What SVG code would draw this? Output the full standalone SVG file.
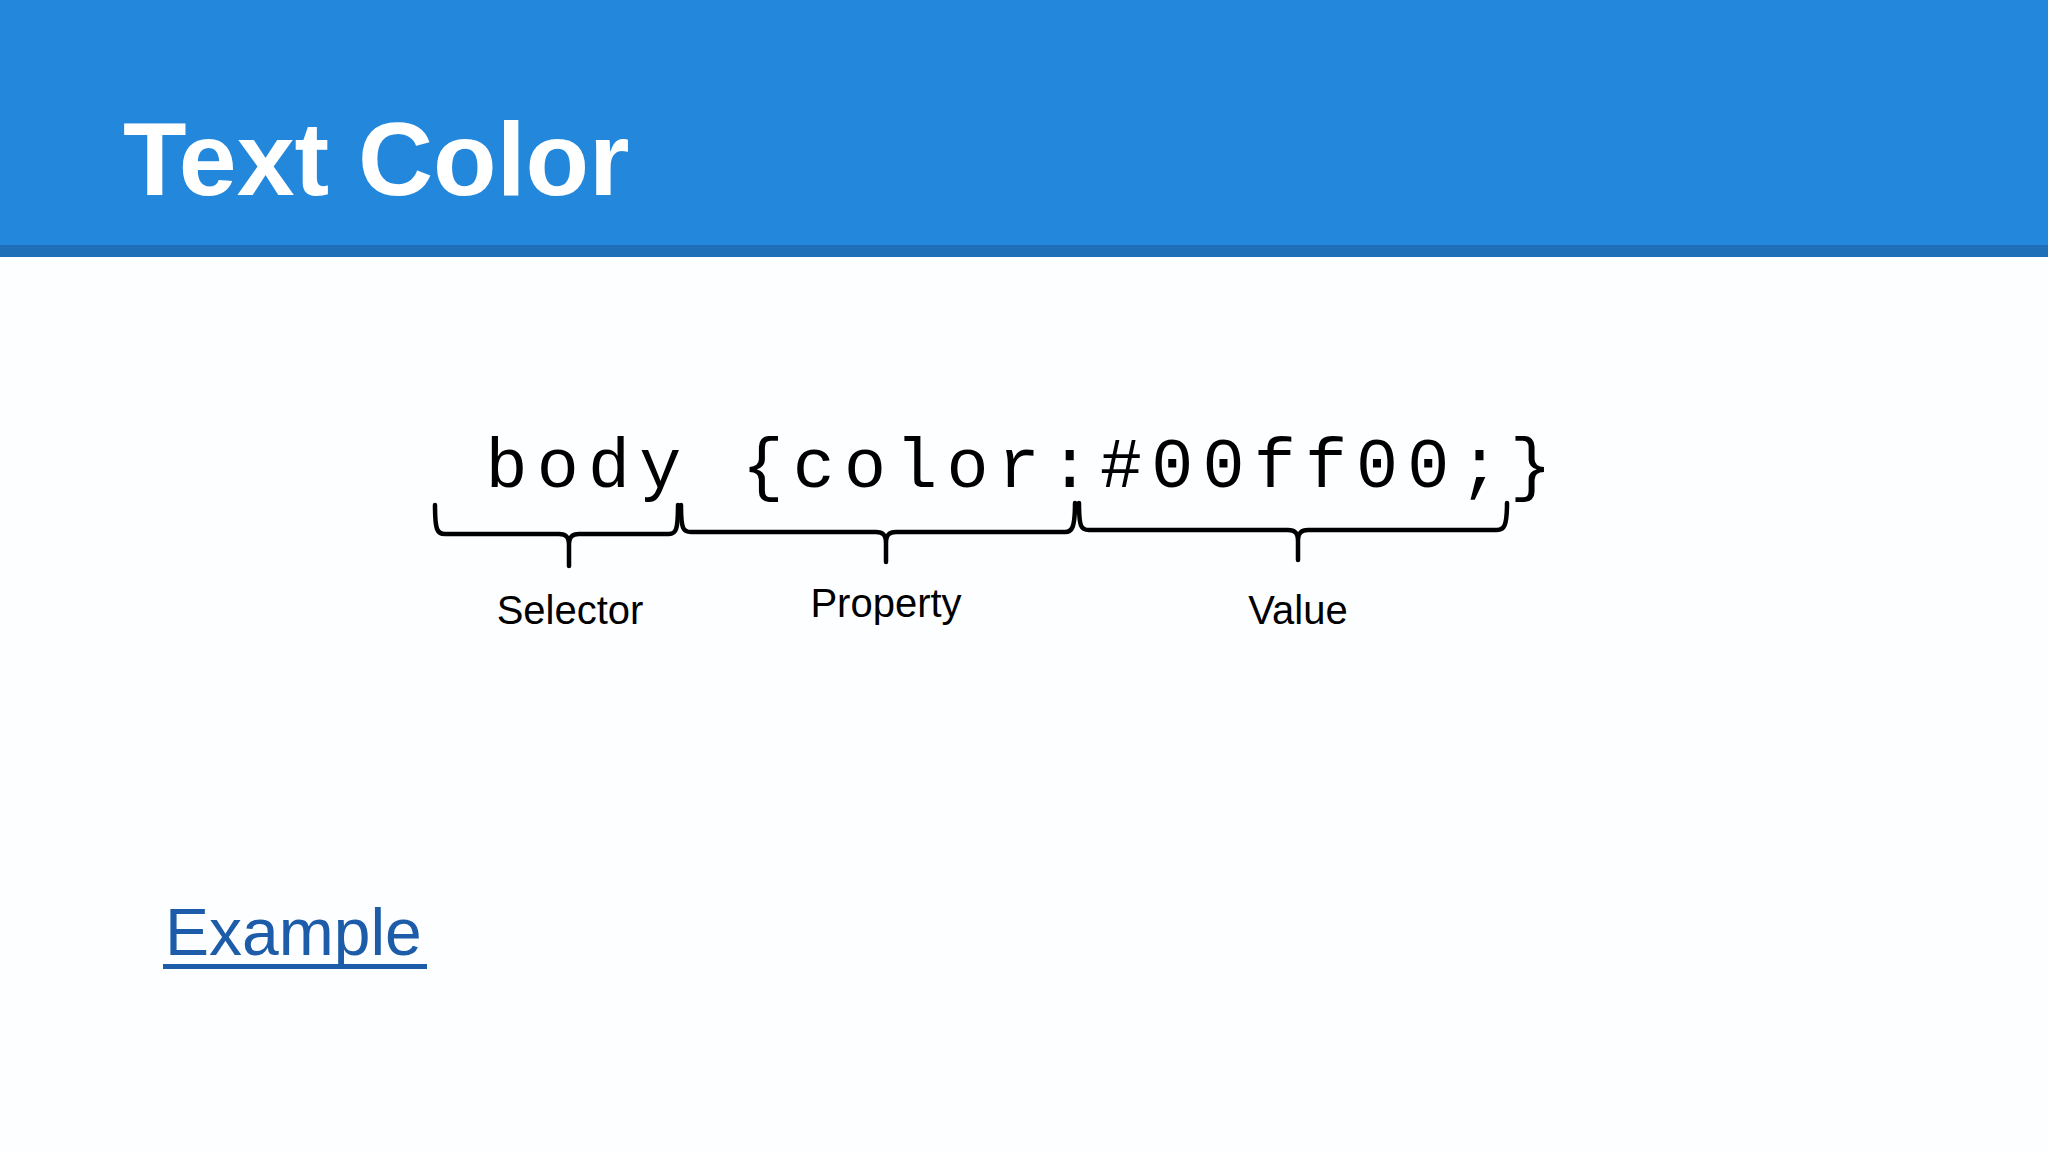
<svg xmlns="http://www.w3.org/2000/svg" width="2048" height="1152" viewBox="0 0 2048 1152">
  <defs>
    <style>
      .brace { fill: none; stroke: #000; stroke-width: 4.5; stroke-linecap: round; stroke-linejoin: round; }
      .label { font-family: "Liberation Sans", Arial, sans-serif; font-size: 40px; fill: #000; text-anchor: middle; }
      .code { font-family: "Liberation Mono", "Courier New", monospace; font-size: 70px; letter-spacing: 9.2px; fill: #000; }
    </style>
  </defs>
  <rect width="2048" height="1152" fill="#fdfeff"/>
  <g id="header">
    <rect x="0" y="0" width="2048" height="245" fill="#2388db"/>
    <rect x="0" y="245" width="2048" height="12" fill="#1e6fb7"/>
    <text x="123" y="195" font-family="Liberation Sans, Arial, sans-serif" font-size="104" font-weight="bold" fill="#ffffff">Text Color</text>
  </g>
  <g id="code">
    <text class="code" x="485.6" y="487" xml:space="preserve">body {color:#00ff00;}</text>
  </g>
  <g id="connectors">
    <path class="brace" d="M435,505 C435,530 437,534 445,534 L559,534 C566,534 569,537 569,545 L569,566 M569,545 C569,537 572,534 579,534 L669,534 C676,534 678,530 678,505"/>
    <path class="brace" d="M681,505 C681,529 683,532 691,532 L876,532 C883,532 886,535 886,543 L886,562 M886,543 C886,535 889,532 896,532 L1065,532 C1072,532 1075,528 1075,503"/>
    <path class="brace" d="M1079,503 C1079,527 1081,530 1089,530 L1288,530 C1295,530 1298,533 1298,541 L1298,560 M1298,541 C1298,533 1301,530 1308,530 L1497,530 C1504,530 1507,526 1507,503"/>
  </g>
  <g id="selector">
    <text class="label" x="570" y="624">Selector</text>
  </g>
  <g id="property">
    <text class="label" x="886" y="617">Property</text>
  </g>
  <g id="value">
    <text class="label" x="1298" y="624">Value</text>
  </g>
  <g id="example">
    <text x="165" y="955" font-family="Liberation Sans, Arial, sans-serif" font-size="66" fill="#1c5ca8">Example</text>
    <rect x="163" y="964" width="264" height="5" fill="#1c5ca8"/>
  </g>
</svg>
